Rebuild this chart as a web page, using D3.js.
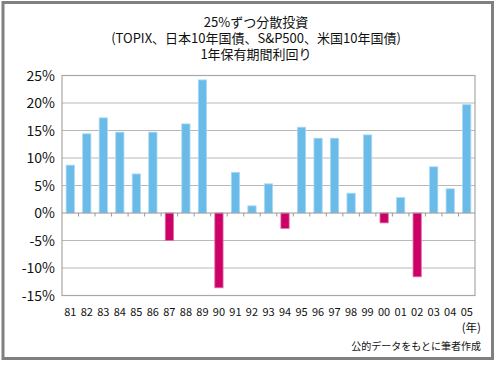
<!DOCTYPE html>
<html><head><meta charset="utf-8">
<script src="https://cdn.jsdelivr.net/npm/d3@7"></script>
<style>
body{margin:0;background:#fff;}
#wrap{position:relative;width:497px;height:365px;}
svg{display:block;font-family:"Noto Sans CJK JP","Noto Sans",sans-serif;}
.title{position:absolute;left:0;width:512px;top:14px;text-align:center;font-family:"Noto Sans CJK JP","Noto Sans",sans-serif;font-size:13px;line-height:16px;color:#111;}
.title div{height:16px;}
</style>
</head><body>
<div id="wrap"></div>
<script>
const years = ["81","82","83","84","85","86","87","88","89","90","91","92","93","94","95","96","97","98","99","00","01","02","03","04","05"];
const returns = [8.7,14.4,17.3,14.7,7.1,14.7,-5.0,16.2,24.2,-13.6,7.4,1.3,5.3,-2.8,15.6,13.6,13.6,3.6,14.2,-1.8,2.8,-11.6,8.4,4.4,19.7];
const yTicks = [25,20,15,10,5,0,-5,-10,-15];
const titleLines = ["25%ずつ分散投資","(TOPIX、日本10年国債、S&P500、米国10年国債)","1年保有期間利回り"];
const unitLabel = "(年)";
const sourceLabel = "公的データをもとに筆者作成";

const W = 497, H = 365;
const wrap = d3.select("#wrap");
const svg = wrap.append("svg").attr("width", W).attr("height", H);

// outer frame
svg.append("rect").attr("x", 3).attr("y", 2.5).attr("width", 489.5).attr("height", 356)
  .attr("fill", "none").attr("stroke", "#808080").attr("stroke-width", 3);

const pL = 62, pR = 475, pT = 75.5, pB = 295.5;
const x = d3.scaleBand().domain(years).range([pL, pR]).paddingInner(0.5).paddingOuter(0.25);
const y = d3.scaleLinear().domain([-15, 25]).range([pB, pT]);

// gridlines
svg.append("g").selectAll("line").data(yTicks.filter(v => v !== 0 && v !== 25 && v !== -15)).join("line")
  .attr("x1", pL).attr("x2", pR).attr("y1", d => y(d)).attr("y2", d => y(d))
  .attr("stroke", "#b8b8b8").attr("stroke-width", 1);

// plot border
svg.append("rect").attr("x", pL).attr("y", pT).attr("width", pR - pL).attr("height", pB - pT)
  .attr("fill", "none").attr("stroke", "#a8a8a8").attr("stroke-width", 1.2);

// bars
svg.append("g").selectAll("rect").data(years.map((yr, i) => ({yr, v: returns[i]}))).join("rect")
  .attr("x", d => x(d.yr)).attr("width", x.bandwidth())
  .attr("y", d => y(Math.max(0, d.v))).attr("height", d => Math.abs(y(d.v) - y(0)))
  .attr("fill", d => d.v >= 0 ? "#6bbbe9" : "#cc0066")
  .attr("stroke", d => d.v >= 0 ? "#a9daf5" : "#e070a8").attr("stroke-width", 0.8);

// zero line with ticks
const step = x.step();
svg.append("line").attr("x1", pL).attr("x2", pR).attr("y1", y(0)).attr("y2", y(0))
  .attr("stroke", "#999").attr("stroke-width", 1.2);
svg.append("g").selectAll("line").data(d3.range(1, years.length)).join("line")
  .attr("x1", i => pL + i * step).attr("x2", i => pL + i * step)
  .attr("y1", y(0)).attr("y2", y(0) + 3.5).attr("stroke", "#999").attr("stroke-width", 1);

// y axis labels
svg.append("g").selectAll("text").data(yTicks).join("text")
  .attr("x", 55).attr("y", d => y(d)).attr("dy", "0.36em").attr("text-anchor", "end")
  .attr("font-size", 14).attr("fill", "#111").text(d => d + "%");

// x axis labels
svg.append("g").selectAll("text").data(years).join("text")
  .attr("x", d => x(d) + x.bandwidth() / 2).attr("y", 312).attr("dy", "0.36em").attr("text-anchor", "middle")
  .attr("font-size", 11).attr("fill", "#111").text(d => d);

svg.append("text").attr("x", 481).attr("y", 328).attr("dy", "0.36em").attr("text-anchor", "end")
  .attr("font-size", 11.5).attr("fill", "#111").text(unitLabel);
svg.append("text").attr("x", 481).attr("y", 346).attr("dy", "0.36em").attr("text-anchor", "end")
  .attr("font-size", 10).attr("fill", "#111").text(sourceLabel);

// title
wrap.append("div").attr("class", "title").selectAll("div").data(titleLines).join("div").text(d => d);
</script>
</body></html>
